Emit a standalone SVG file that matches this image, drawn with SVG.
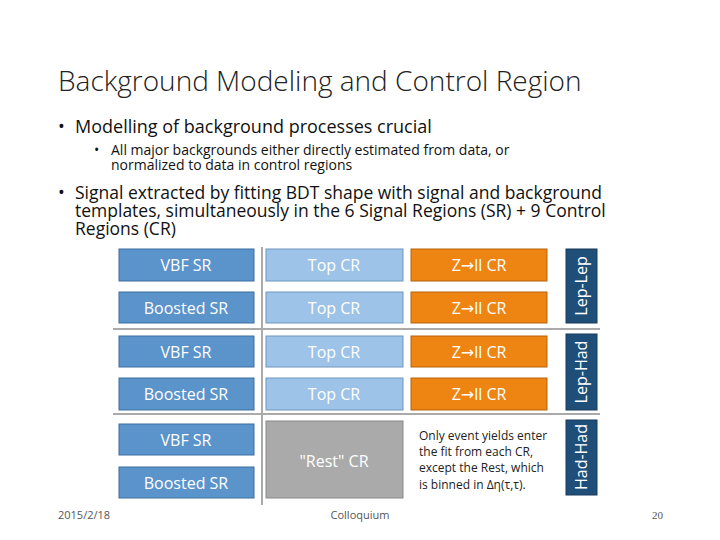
<svg xmlns="http://www.w3.org/2000/svg" width="720" height="540" viewBox="0 0 720 540">
<style>
text{font-family:"Open Sans","Liberation Sans",sans-serif}
.sr{fill:#5b93cb;stroke:#3d6f9f;stroke-width:1}
.top{fill:#9dc3e8;stroke:#6f96bd;stroke-width:1}
.z{fill:#ee8412;stroke:#b5620c;stroke-width:1}
.side{fill:#1f4e79;stroke:#163a5c}
.bt{fill:#fff;font-size:16px;text-anchor:middle}
.ar{font-family:"DejaVu Sans",sans-serif}
.sep{stroke:#aaa;stroke-width:2}
</style>
<rect width="720" height="540" fill="#fff"/>
<text x="58" y="91" font-size="28" fill="#222" font-weight="300">Background Modeling and Control Region</text>
<text x="58" y="133" font-size="18" fill="#111">•</text>
<text x="75" y="133" font-size="18" fill="#111">Modelling of background processes crucial</text>
<text x="94" y="155" font-size="14" fill="#111">•</text>
<text x="111" y="155" font-size="14" fill="#111">All major backgrounds either directly estimated from data, or</text>
<text x="111" y="170" font-size="14" fill="#111">normalized to data in control regions</text>
<text x="58" y="199" font-size="18" fill="#111">•</text>
<text x="75" y="199" font-size="17.5" fill="#111">Signal extracted by fitting BDT shape with signal and background</text>
<text x="75" y="217" font-size="17.5" fill="#111">templates, simultaneously in the 6 Signal Regions (SR) + 9 Control</text>
<text x="75" y="235" font-size="17.5" fill="#111">Regions (CR)</text>
<g id="separators">
<line class="sep" x1="262" y1="247" x2="262" y2="505"/>
<line class="sep" x1="113" y1="329" x2="600" y2="329"/>
<line class="sep" x1="113" y1="414" x2="600" y2="414" stroke="#777"/>
</g>
<g id="sr1"><rect class="sr" x="119" y="249" width="135" height="32"/><text class="bt" x="186" y="271">VBF SR</text></g>
<g id="sr2"><rect class="sr" x="119" y="292" width="135" height="31"/><text class="bt" x="186" y="314">Boosted SR</text></g>
<g id="sr3"><rect class="sr" x="119" y="336" width="135" height="31"/><text class="bt" x="186" y="358">VBF SR</text></g>
<g id="sr4"><rect class="sr" x="119" y="378" width="135" height="32"/><text class="bt" x="186" y="400">Boosted SR</text></g>
<g id="sr5"><rect class="sr" x="119" y="424" width="135" height="31"/><text class="bt" x="186" y="446">VBF SR</text></g>
<g id="sr6"><rect class="sr" x="119" y="467" width="135" height="31"/><text class="bt" x="186" y="489">Boosted SR</text></g>
<g id="top1"><rect class="top" x="266" y="249" width="137" height="32"/><text class="bt" x="334" y="271">Top CR</text></g>
<g id="top2"><rect class="top" x="266" y="292" width="137" height="31"/><text class="bt" x="334" y="314">Top CR</text></g>
<g id="top3"><rect class="top" x="266" y="336" width="137" height="31"/><text class="bt" x="334" y="358">Top CR</text></g>
<g id="top4"><rect class="top" x="266" y="378" width="137" height="32"/><text class="bt" x="334" y="400">Top CR</text></g>
<g id="z1"><rect class="z" x="411" y="249" width="136" height="32"/><text class="bt" x="479" y="271">Z<tspan class="ar">→</tspan>ll CR</text></g>
<g id="z2"><rect class="z" x="411" y="292" width="136" height="31"/><text class="bt" x="479" y="314">Z<tspan class="ar">→</tspan>ll CR</text></g>
<g id="z3"><rect class="z" x="411" y="336" width="136" height="31"/><text class="bt" x="479" y="358">Z<tspan class="ar">→</tspan>ll CR</text></g>
<g id="z4"><rect class="z" x="411" y="378" width="136" height="32"/><text class="bt" x="479" y="400">Z<tspan class="ar">→</tspan>ll CR</text></g>
<g id="rest"><rect x="266" y="421" width="137" height="77" fill="#aaa" stroke="#888"/><text class="bt" x="334" y="467">"Rest" CR</text></g>
<g id="note" font-size="12" fill="#222">
<text x="419" y="440">Only event yields enter</text>
<text x="419" y="456">the fit from each CR,</text>
<text x="419" y="472">except the Rest, which</text>
<text x="419" y="489">is binned in Δη(τ,τ).</text>
</g>
<g id="leplep"><rect class="side" x="566" y="249" width="31" height="74"/><text class="bt" transform="translate(587,286) rotate(-90)">Lep-Lep</text></g>
<g id="lephad"><rect class="side" x="566" y="334" width="31" height="76"/><text class="bt" transform="translate(587,372) rotate(-90)">Lep-Had</text></g>
<g id="hadhad"><rect class="side" x="566" y="420" width="31" height="75"/><text class="bt" transform="translate(587,457) rotate(-90)">Had-Had</text></g>
<text x="58" y="519" font-size="11" fill="#555">2015/2/18</text>
<text x="360" y="519" font-size="11" fill="#555" text-anchor="middle">Colloquium</text>
<text x="663" y="519" font-size="11" fill="#555" text-anchor="end" style="font-family:'Liberation Serif',serif">20</text>
</svg>
